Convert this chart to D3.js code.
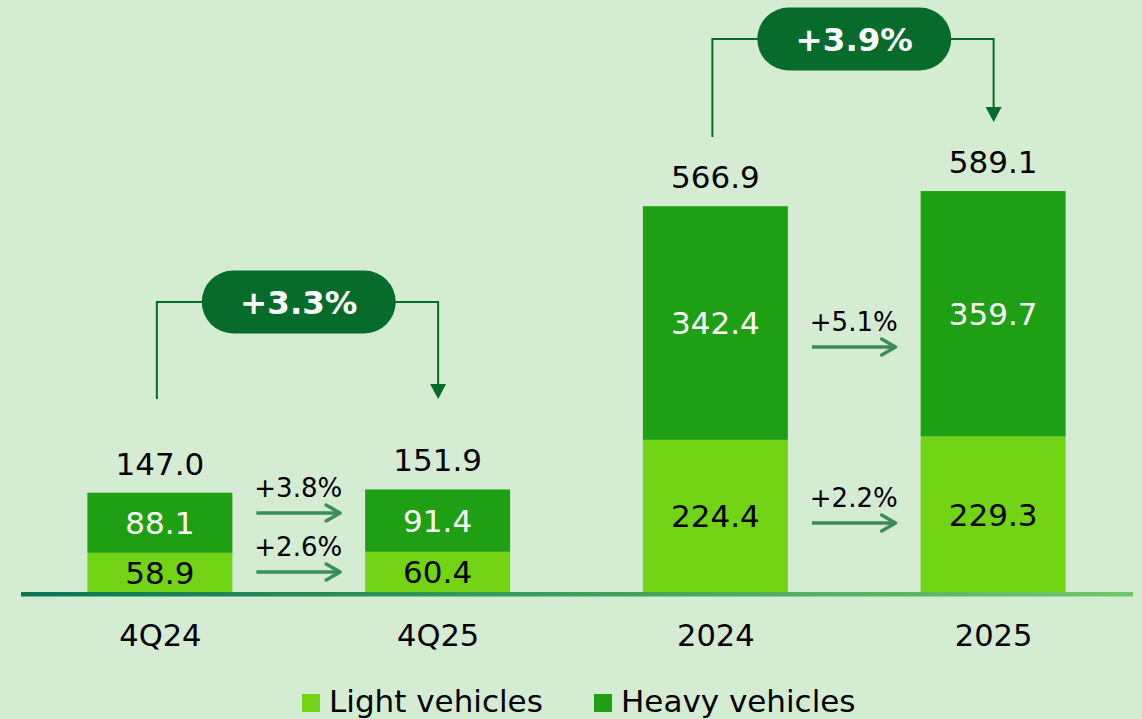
<!DOCTYPE html>
<html>
<head>
<meta charset="utf-8">
<script src="https://cdn.jsdelivr.net/npm/d3@7"></script>
<style>
  body { margin: 0; background: #d3ecd2; }
  svg { display: block; font-family: "DejaVu Sans", Verdana, sans-serif; }
</style>
</head>
<body>
<div id="chart"></div>
<script>
// values
var categories = ["4Q24", "4Q25", "2024", "2025"];
var lightValues = [58.9, 60.4, 224.4, 229.3];
var heavyValues = [88.1, 91.4, 342.4, 359.7];
var totalValues = [147.0, 151.9, 566.9, 589.1];
var totalGrowth = ["+3.3%", "+3.9%"];
var heavyGrowth = ["+3.8%", "+5.1%"];
var lightGrowth = ["+2.6%", "+2.2%"];
var seriesNames = ["Light vehicles", "Heavy vehicles"];

var width = 1142, height = 719;
var baseY = 593;
var barW = 145;
var lightColor = "#72d414", heavyColor = "#1fa014";
var darkGreen = "#076b2b", arrowGreen = "#3a8c5a";

// annotation placement (pixels) for the two comparisons
var pairs = [[0, 1], [2, 3]];
var pillY = [302, 39];
var leftFoot = [399, 137];
var rightTip = [399, 122];
var heavyArrowY = [513, 347];
var lightArrowY = [572, 523];

var svg = d3.select("#chart")
  .append("svg")
  .attr("width", width)
  .attr("height", height);

var x = d3.scalePoint()
  .domain(categories)
  .range([21, 1132])
  .padding(0.5);

var y = d3.scaleLinear()
  .domain([0, 600])
  .range([baseY, baseY - 600 * 0.6824]);

var table = categories.map(function(c, i) {
  return { cat: c, light: lightValues[i], heavy: heavyValues[i], total: totalValues[i] };
});

var stack = d3.stack().keys(["light", "heavy"])(table);
var colors = { light: lightColor, heavy: heavyColor };

// bars
var layers = svg.append("g")
  .selectAll("g")
  .data(stack)
  .enter().append("g")
  .attr("fill", function(d) { return colors[d.key]; });

layers.selectAll("rect")
  .data(function(d) { return d; })
  .enter().append("rect")
  .attr("x", function(d) { return x(d.data.cat) - barW / 2; })
  .attr("y", function(d) { return y(d[1]); })
  .attr("width", barW)
  .attr("height", function(d) { return y(d[0]) - y(d[1]); });

// segment labels
layers.selectAll("text")
  .data(function(d) { return d.map(function(p) { p.key = d.key; return p; }); })
  .enter().append("text")
  .attr("x", function(d) { return x(d.data.cat); })
  .attr("y", function(d) { return (y(d[0]) + y(d[1])) / 2 + 11; })
  .attr("text-anchor", "middle")
  .style("font-size", "31px")
  .style("fill", function(d) { return d.key == "heavy" ? "#fff" : "#000"; })
  .text(function(d) { return d.data[d.key].toFixed(1); });

// totals
svg.append("g")
  .selectAll("text")
  .data(table)
  .enter().append("text")
  .attr("x", function(d) { return x(d.cat); })
  .attr("y", function(d) { return y(d.light + d.heavy) - 18; })
  .attr("text-anchor", "middle")
  .style("font-size", "31px")
  .style("fill", "#000")
  .text(function(d) { return d.total.toFixed(1); });

// baseline
var grad = svg.append("defs").append("linearGradient")
  .attr("id", "baseGrad");
grad.append("stop").attr("offset", "0%").attr("stop-color", "#0b7552");
grad.append("stop").attr("offset", "100%").attr("stop-color", "#6fc86b");

svg.append("rect")
  .attr("x", 21)
  .attr("y", baseY - 1)
  .attr("width", 1112)
  .attr("height", 4.5)
  .attr("fill", "url(#baseGrad)");

// category axis
var xAxis = svg.append("g")
  .attr("transform", "translate(0," + baseY + ")")
  .call(d3.axisBottom(x).tickSize(0).tickPadding(0));
xAxis.select(".domain").remove();
xAxis.selectAll("text")
  .attr("y", 53)
  .attr("dy", 0)
  .style("font-family", "\"DejaVu Sans\", Verdana, sans-serif")
  .style("font-size", "30.5px")
  .style("fill", "#000");

// comparison brackets
pairs.forEach(function(p, k) {
  var a = x(categories[p[0]]), b = x(categories[p[1]]);
  var mid = (a + b) / 2;
  var py = pillY[k];
  var g = svg.append("g");

  g.append("path")
    .attr("d", "M" + (a - 3) + "," + leftFoot[k] + "V" + py + "H" + mid)
    .attr("fill", "none")
    .attr("stroke", darkGreen)
    .attr("stroke-width", 2);
  g.append("path")
    .attr("d", "M" + mid + "," + py + "H" + (b + 0.5) + "V" + (rightTip[k] - 12))
    .attr("fill", "none")
    .attr("stroke", darkGreen)
    .attr("stroke-width", 2);
  g.append("path")
    .attr("d", "M" + (b + 0.5 - 8) + "," + (rightTip[k] - 15) + "L" + (b + 0.5 + 8) + "," + (rightTip[k] - 15) + "L" + (b + 0.5) + "," + rightTip[k] + "Z")
    .attr("fill", darkGreen);

  g.append("rect")
    .attr("x", mid - 97)
    .attr("y", py - 31.5)
    .attr("width", 194)
    .attr("height", 63)
    .attr("rx", 31.5)
    .attr("fill", darkGreen);
  g.append("text")
    .attr("x", mid)
    .attr("y", py + 11.5)
    .attr("text-anchor", "middle")
    .style("font-size", "32.5px")
    .style("font-weight", "bold")
    .style("fill", "#fff")
    .text(totalGrowth[k]);

  // segment growth arrows
  var x1 = a + barW / 2 + 24, x2 = b - barW / 2 - 25;
  [[heavyArrowY[k], heavyGrowth[k]], [lightArrowY[k], lightGrowth[k]]].forEach(function(r) {
    var ay = r[0];
    g.append("text")
      .attr("x", (x1 + x2) / 2)
      .attr("y", ay - 16)
      .attr("text-anchor", "middle")
      .style("font-size", "26px")
      .style("fill", "#000")
      .text(r[1]);
    g.append("line")
      .attr("x1", x1).attr("x2", x2 - 2)
      .attr("y1", ay).attr("y2", ay)
      .attr("stroke", arrowGreen)
      .attr("stroke-width", 3.5);
    g.append("path")
      .attr("d", "M" + (x2 - 14) + "," + (ay - 8) + "L" + x2 + "," + ay + "L" + (x2 - 14) + "," + (ay + 8))
      .attr("fill", "none")
      .attr("stroke", arrowGreen)
      .attr("stroke-width", 3.5)
      .attr("stroke-linejoin", "round")
      .attr("stroke-linecap", "round");
  });
});

// legend
var legend = svg.append("g")
  .selectAll("g")
  .data(seriesNames)
  .enter().append("g")
  .attr("transform", function(d, i) { return "translate(" + (302 + i * 292) + ",694)"; });

legend.append("rect")
  .attr("width", 18)
  .attr("height", 18)
  .attr("fill", function(d, i) { return i == 0 ? lightColor : heavyColor; });

legend.append("text")
  .attr("x", 27)
  .attr("y", 18)
  .style("font-size", "31px")
  .style("fill", "#000")
  .text(function(d) { return d; });
</script>
</body>
</html>
